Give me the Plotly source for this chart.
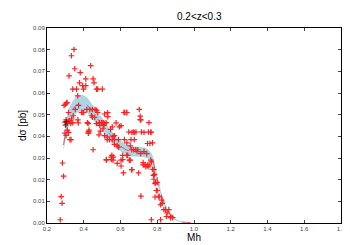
import plotly.graph_objects as go

# scatter points (Mh, dsigma)
pts_x = [0.347,0.333,0.351,0.320,0.381,0.438,0.377,0.394,0.411,0.411,0.451,0.456,0.340,0.361,0.399,
         0.469,0.476,0.501,0.367,0.293,0.300,0.309,0.372,0.395,0.317,0.354,0.417,0.433,0.447,0.462,
         0.476,0.513,0.530,0.619,0.631,0.702,0.707,0.707,0.755,0.603,0.420,0.368,0.340,0.304,0.311,
         0.485,0.496,0.506,0.522,0.447,0.304,0.317,0.331,0.284,0.290,0.277,0.282,0.272,0.426,0.426,
         0.451,0.490,0.505,0.555,0.594,0.528,0.523,0.551,0.553,0.562,0.582,0.603,0.616,0.612,0.634,
         0.645,0.669,0.684,0.714,0.752,0.766,0.747,0.760,0.723,0.734,0.747,0.756,0.723,0.698,0.661,
         0.711,0.768,0.774,0.785,0.791,0.800,0.800,0.810,0.827,0.836,0.863,0.850,0.874,0.768,
         0.307,0.298,0.322,0.334,0.329,0.311,0.298,0.325,0.343,0.370,0.388,0.400,0.424,0.429,0.425,
         0.442,0.460,0.469,0.483,0.487,0.513,0.531,0.621,0.635,0.711,0.576,0.505,0.510,0.546,0.513,
         0.528,0.540,0.555,0.567,0.567,0.589,0.567,0.582,0.621,0.662,0.675,0.657,0.675,0.728,0.765,
         0.774,0.635,0.653,0.661,0.672,0.683,0.694,0.728,0.743,0.612,0.639,0.549,0.523,0.559,0.603,
         0.653,0.765,0.648,0.662,0.738,0.750,0.782,0.779,0.782,0.788,0.795,0.788,0.809,0.824,0.818,
         0.845,0.854,0.872,0.884,0.818,0.470,0.560,0.590,0.690,0.710]
pts_y = [0.0801,0.0772,0.0712,0.0679,0.0694,0.0726,0.0647,0.0634,0.0634,0.0665,0.0665,0.0647,0.0618,0.0618,0.0618,
         0.0618,0.0618,0.0618,0.0587,0.0543,0.0548,0.0556,0.0543,0.0510,0.0510,0.0524,0.0524,0.0524,0.0524,0.0524,
         0.0510,0.0503,0.0509,0.0510,0.0510,0.0524,0.0493,0.0477,0.0463,0.0449,0.0463,0.0476,0.0463,0.0476,0.0463,
         0.0463,0.0463,0.0463,0.0463,0.0488,0.0404,0.0418,0.0385,0.0277,0.0216,0.0122,0.0091,0.0015,0.0422,0.0415,
         0.0338,0.0424,0.0435,0.0444,0.0444,0.0396,0.0293,0.0293,0.0312,0.0304,0.0275,0.0263,0.0231,0.0293,0.0312,
         0.0420,0.0420,0.0420,0.0420,0.0420,0.0420,0.0367,0.0367,0.0268,0.0268,0.0268,0.0268,0.0279,0.0231,0.0246,
         0.0124,0.0282,0.0248,0.0224,0.0187,0.0187,0.0150,0.0124,0.0091,0.0062,0.0062,0.0030,0.0030,0.0015,
         0.0554,0.0466,0.0473,0.0480,0.0459,0.0429,0.0415,0.0385,0.0495,0.0462,0.0510,0.0510,0.0459,0.0429,0.0415,
         0.0495,0.0488,0.0459,0.0407,0.0451,0.0459,0.0491,0.0510,0.0510,0.0476,0.0462,0.0462,0.0451,0.0432,0.0403,
         0.0385,0.0385,0.0385,0.0385,0.0403,0.0385,0.0363,0.0356,0.0385,0.0418,0.0418,0.0385,0.0385,0.0418,0.0418,
         0.0370,0.0370,0.0356,0.0338,0.0338,0.0338,0.0338,0.0330,0.0320,0.0312,0.0312,0.0304,0.0290,0.0290,0.0290,
         0.0290,0.0290,0.0290,0.0246,0.0260,0.0260,0.0246,0.0220,0.0202,0.0182,0.0150,0.0120,0.0120,0.0106,0.0084,
         0.0062,0.0047,0.0025,0.0025,0.0015,0.0520,0.0400,0.0350,0.0330,0.0320]

# theory curve and band
curve_x = [0.29,0.30,0.31,0.32,0.34,0.36,0.38,0.40,0.42,0.45,0.48,0.50,0.53,0.55,0.58,0.60,0.63,0.66,
           0.70,0.73,0.75,0.77,0.78,0.79,0.80,0.82,0.84,0.86,0.88,0.90,0.93,0.96,1.00]
curve_y = [0.0360,0.0420,0.0460,0.0490,0.0525,0.0545,0.0553,0.0553,0.0543,0.0510,0.0475,0.0458,0.0420,0.0400,
           0.0370,0.0355,0.0338,0.0330,0.0328,0.0325,0.0318,0.0300,0.0275,0.0240,0.0200,0.0135,0.0085,0.0050,
           0.0028,0.0015,0.0005,0.0002,0.0000]
band_lo = [0.0335,0.0385,0.0422,0.0450,0.0487,0.0508,0.0516,0.0517,0.0508,0.0478,0.0446,0.0430,0.0394,0.0374,
           0.0345,0.0331,0.0315,0.0307,0.0306,0.0303,0.0297,0.0280,0.0255,0.0222,0.0184,0.0122,0.0076,0.0044,
           0.0023,0.0011,0.0003,0.0001,0.0000]
band_hi = [0.0385,0.0455,0.0498,0.0530,0.0563,0.0585,0.0592,0.0590,0.0578,0.0542,0.0504,0.0486,0.0446,0.0426,
           0.0395,0.0380,0.0362,0.0354,0.0351,0.0348,0.0340,0.0321,0.0295,0.0258,0.0216,0.0148,0.0094,0.0056,
           0.0033,0.0019,0.0007,0.0003,0.0000]

dark_x = [0.305, 0.300]
dark_y = [0.0468, 0.0452]

x_ticks = [0.2,0.4,0.6,0.8,1.0,1.2,1.4,1.6,1.8]
x_labels = ["0.2","0.4","0.6","0.8","1.0","1.2","1.4","1.6","1.8"]
y_ticks = [0.00,0.01,0.02,0.03,0.04,0.05,0.06,0.07,0.08,0.09]
y_labels = ["0.00","0.01","0.02","0.03","0.04","0.05","0.06","0.07","0.08","0.09"]

FONT = "Liberation Sans, Arial"
fig = go.Figure()
fig.add_trace(go.Scatter(x=curve_x, y=band_hi, mode="lines", line=dict(width=0), hoverinfo="skip", showlegend=False))
fig.add_trace(go.Scatter(x=curve_x, y=band_lo, mode="lines", line=dict(width=0), fill="tonexty",
                         fillcolor="#a9d7e6", hoverinfo="skip", showlegend=False))
fig.add_trace(go.Scatter(x=curve_x, y=curve_y, mode="lines",
                         line=dict(color="#e04050", width=0.8, dash="dash"), showlegend=False))
fig.add_trace(go.Scatter(x=pts_x, y=pts_y, mode="markers",
                         marker=dict(symbol="cross-thin", size=4, line=dict(width=1.2, color="#ff2020")),
                         showlegend=False))
fig.add_trace(go.Scatter(x=dark_x, y=dark_y, mode="markers",
                         marker=dict(symbol="cross-thin", size=4, line=dict(width=1.1, color="#552222")),
                         showlegend=False))

axis_common = dict(showline=True, linecolor="black", linewidth=1, mirror="allticks", ticks="inside",
                   ticklen=3, tickcolor="#444", showgrid=False, zeroline=False,
                   tickfont=dict(family=FONT, size=6, color="#444"))
fig.update_layout(
    width=350, height=245, margin=dict(l=39, r=12, t=20, b=21),
    paper_bgcolor="white", plot_bgcolor="white",
    annotations=[dict(text="0.2<z<0.3", xref="paper", yref="paper", x=0.52, y=1, yshift=12,
                      xanchor="center", yanchor="middle", showarrow=False,
                      font=dict(family=FONT, size=10, color="black"))],
    xaxis=dict(range=[0.2, 1.8], tickvals=x_ticks, ticktext=x_labels,
               title=dict(text="Mh", standoff=2, font=dict(family=FONT, size=10, color="black")),
               **axis_common),
    yaxis=dict(range=[0, 0.09], tickvals=y_ticks, ticktext=y_labels,
               title=dict(text="dσ [pb]", standoff=4, font=dict(family=FONT, size=10, color="black")),
               **axis_common),
)
fig.write_html("out.html")
